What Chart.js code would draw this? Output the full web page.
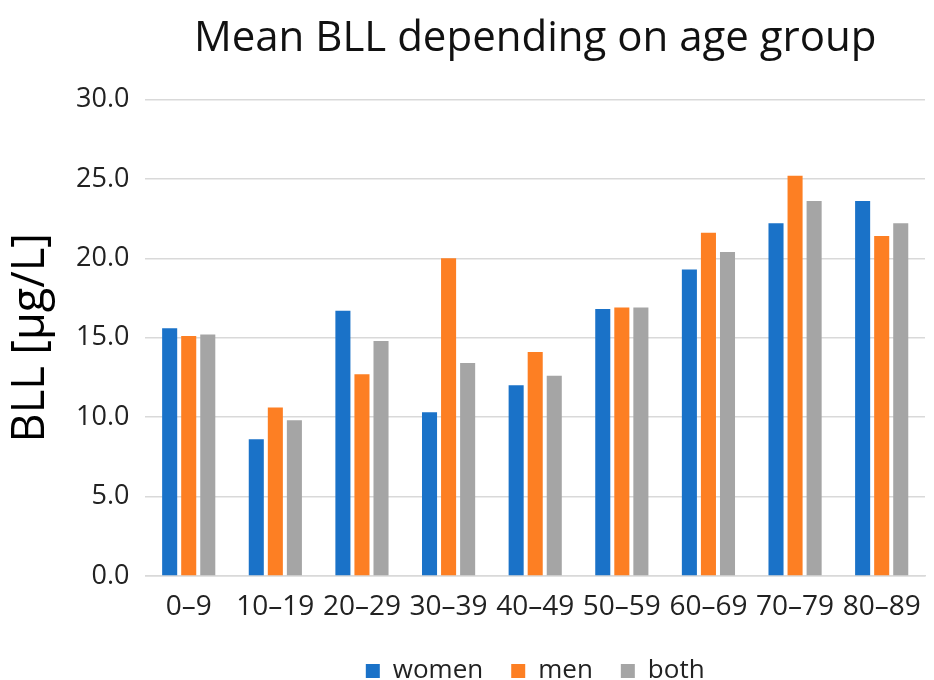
<!DOCTYPE html>
<html>
<head>
<meta charset="utf-8">
<script src="https://cdn.jsdelivr.net/npm/chart.js@4/dist/chart.umd.min.js"></script>
<style>
  html, body { margin: 0; padding: 0; background: #ffffff; }
  #wrap { width: 934px; height: 680px; }
</style>
</head>
<body>
<div id="wrap"><canvas id="c" width="934" height="680"></canvas></div>
<script>
// Age groups and mean blood lead levels (µg/L)
const ageGroups = ['0–9', '10–19', '20–29', '30–39', '40–49', '50–59', '60–69', '70–79', '80–89'];
const women = [15.6, 8.6, 16.7, 10.3, 12.0, 16.8, 19.3, 22.2, 23.6];
const men   = [15.1, 10.6, 12.7, 20.0, 14.1, 16.9, 21.6, 25.2, 21.4];
const both  = [15.2, 9.8, 14.8, 13.4, 12.6, 16.9, 20.4, 23.6, 22.2];
const yTicks = [0, 5, 10, 15, 20, 25, 30];

const FONT = "'Open Sans', 'DejaVu Sans', sans-serif";

new Chart(document.getElementById('c'), {
  type: 'bar',
  data: {
    labels: ageGroups,
    datasets: [
      { label: 'women', data: women, backgroundColor: '#1a72c8' },
      { label: 'men',   data: men,   backgroundColor: '#fd7f23' },
      { label: 'both',  data: both,  backgroundColor: '#a5a5a5' }
    ]
  },
  options: {
    responsive: false,
    animation: false,
    devicePixelRatio: 1,
    layout: { padding: { top: 14, right: 9, bottom: -14, left: 4 } },
    datasets: {
      bar: { categoryPercentage: 0.66, barPercentage: 0.79, borderWidth: 0 }
    },
    plugins: {
      title: {
        display: true,
        fullSize: false,
        text: 'Mean BLL depending on age group',
        color: '#111111',
        font: { family: FONT, size: 42, weight: 'normal' },
        padding: { top: 0, bottom: 35 }
      },
      legend: {
        position: 'bottom',
        fullSize: false,
        labels: {
          color: '#222222',
          font: { family: FONT, size: 26 },
          boxWidth: 14,
          boxHeight: 14,
          padding: 28
        }
      },
      tooltip: { enabled: false }
    },
    scales: {
      x: {
        grid: { display: false },
        border: { display: true, color: '#d9d9d9', width: 1.5 },
        ticks: { color: '#222222', font: { family: FONT, size: 28 }, padding: 6, maxRotation: 0 },
        afterFit: axis => { axis.height = 54; }
      },
      y: {
        min: 0,
        max: 30,
        afterBuildTicks: axis => { axis.ticks = yTicks.map(v => ({ value: v })); },
        grid: { color: '#d9d9d9', lineWidth: 1.5, drawTicks: false },
        border: { display: false },
        ticks: {
          color: '#222222',
          font: { family: FONT, size: 27 },
          padding: 16,
          callback: v => Number(v).toFixed(1)
        },
        title: {
          display: true,
          text: 'BLL [µg/L]',
          color: '#000000',
          font: { family: FONT, size: 45 },
          padding: { top: 0, bottom: 2 }
        }
      }
    }
  }
});
</script>
</body>
</html>
